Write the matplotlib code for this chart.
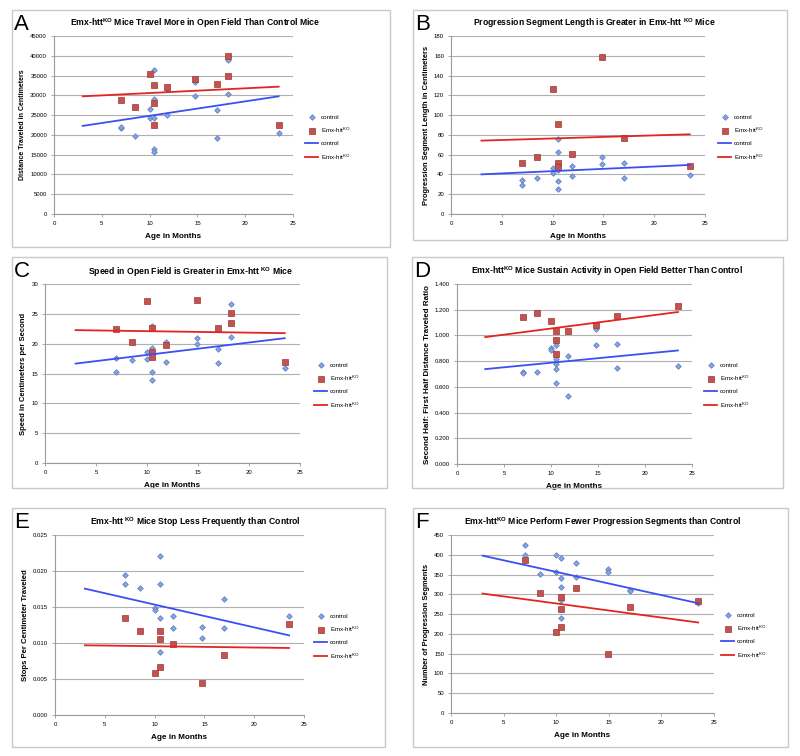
import numpy as np
import matplotlib
matplotlib.use('Agg')
import matplotlib.pyplot as plt
from matplotlib.patches import Rectangle

plt.rcParams['font.family'] = ['Liberation Sans', 'DejaVu Sans']
plt.rcParams['mathtext.fontset'] = 'custom'
plt.rcParams['mathtext.rm'] = 'Liberation Sans'
plt.rcParams['mathtext.bf'] = 'Liberation Sans:bold'

# --- data ---
trend_x = [3, 23.5]

# A: distance travelled
a_ctrl_age = [7, 7, 8.5, 10, 10, 10.5, 10.5, 10.5, 10.5, 10.5, 11.8, 11.8, 14.8, 14.8, 17, 17, 18.2, 18.2, 23.5]
a_ctrl = [21700, 21900, 19750, 26550, 24300, 36400, 29100, 24300, 16400, 15550, 31500, 24950, 33350, 29850, 26200, 19300, 39000, 30250, 20600]
a_ko_age = [7, 8.5, 10, 10.5, 10.5, 10.5, 11.8, 14.8, 17, 18.2, 18.2, 23.5]
a_ko = [28800, 27050, 35400, 32700, 28050, 22600, 32150, 34200, 32900, 40050, 34950, 22450]
a_trend_ctrl = [22270, 29750]
a_trend_ko = [29750, 32190]

# B: progression segment length
b_ctrl_age = [7, 7, 8.5, 10, 10, 10.5, 10.5, 10.5, 10.5, 10.5, 11.9, 11.9, 14.9, 14.9, 17, 17, 23.5]
b_ctrl = [34.1, 29.3, 36.4, 46.5, 41.5, 75.5, 62.7, 44.2, 33.1, 25.3, 48.2, 38.1, 57.3, 50.9, 51.3, 36.4, 39.5]
b_ko_age = [7, 8.5, 10, 10.5, 10.5, 10.5, 11.9, 14.9, 17, 23.5]
b_ko = [51.6, 57.7, 126.8, 90.7, 51.9, 47.2, 60.7, 158.5, 76.6, 48.9]
b_trend_ctrl = [40.1, 49.6]
b_trend_ko = [74.2, 80.6]

# C: speed
c_ctrl_age = [7, 7, 8.5, 10, 10, 10.5, 10.5, 10.5, 10.5, 10.5, 11.9, 11.9, 14.9, 14.9, 17, 17, 18.2, 18.2, 23.5]
c_ctrl = [17.55, 15.2, 17.2, 18.6, 17.4, 22.9, 19.3, 18.5, 15.3, 13.85, 20.2, 16.9, 21.0, 19.9, 19.1, 16.8, 26.7, 21.1, 16.0]
c_ko_age = [7, 8.5, 10, 10.5, 10.5, 10.5, 11.9, 14.9, 17, 18.2, 18.2, 23.5]
c_ko = [22.4, 20.2, 27.1, 22.6, 18.6, 17.7, 19.85, 27.3, 22.7, 25.2, 23.45, 16.9]
c_trend_ctrl = [16.66, 20.92]
c_trend_ko = [22.27, 21.76]

# D: second half / first half ratio
d_ctrl_age = [7, 7, 8.5, 10, 10, 10.5, 10.5, 10.5, 10.5, 10.5, 11.8, 11.8, 14.8, 14.8, 17, 17, 23.5]
d_ctrl = [0.719, 0.709, 0.714, 0.899, 0.886, 0.925, 0.818, 0.777, 0.740, 0.629, 0.842, 0.532, 1.047, 0.927, 0.930, 0.743, 0.764]
d_ko_age = [7, 8.5, 10, 10.5, 10.5, 10.5, 11.8, 14.8, 17, 23.5]
d_ko = [1.143, 1.171, 1.109, 1.031, 0.961, 0.855, 1.034, 1.078, 1.153, 1.226]
d_trend_ctrl = [0.738, 0.883]
d_trend_ko = [0.987, 1.182]

# E: stops per cm
e_ctrl_age = [7, 7, 8.5, 10, 10, 10.5, 10.5, 10.5, 10.5, 11.8, 11.8, 14.8, 14.8, 17, 17, 23.5]
e_ctrl = [0.0195, 0.0182, 0.0176, 0.0149, 0.0146, 0.0221, 0.0182, 0.0135, 0.0087, 0.0138, 0.0121, 0.0122, 0.0107, 0.0161, 0.0121, 0.0137]
e_ko_age = [7, 8.5, 10, 10.5, 10.5, 10.5, 11.8, 14.8, 17, 23.5]
e_ko = [0.0135, 0.0116, 0.0058, 0.0117, 0.0106, 0.0066, 0.0098, 0.0044, 0.0083, 0.0127]
e_trend_ctrl = [0.01755, 0.01106]
e_trend_ko = [0.00968, 0.00931]

# F: number of progression segments
f_ctrl_age = [7, 7, 8.5, 10, 10, 10.5, 10.5, 10.5, 10.5, 10.5, 11.9, 11.9, 14.9, 14.9, 17, 17, 23.5]
f_ctrl = [425, 400, 351, 399, 357, 393, 342, 318, 285, 240, 379, 343, 364, 357, 311, 309, 277]
f_ko_age = [7, 8.5, 10, 10.5, 10.5, 10.5, 11.9, 14.9, 17, 23.5]
f_ko = [388, 303, 204, 293, 262, 217, 316, 150, 268, 282]
f_trend_ctrl = [397.8, 277.5]
f_trend_ko = [301.9, 228.8]

letters = ['A', 'B', 'C', 'D', 'E', 'F']
titles = [
    r'Emx-htt$^{\mathbf{KO}}$ Mice Travel More in Open Field Than Control Mice',
    r'Progression Segment Length is Greater in Emx-htt $^{\mathbf{KO}}$ Mice',
    r'Speed in Open Field is Greater in Emx-htt $^{\mathbf{KO}}$ Mice',
    r'Emx-htt$^{\mathbf{KO}}$ Mice Sustain Activity in Open Field Better Than Control',
    r'Emx-htt $^{\mathbf{KO}}$ Mice Stop Less Frequently than Control',
    r'Emx-htt$^{\mathbf{KO}}$ Mice Perform Fewer Progression Segments than Control',
]
ylabels = [
    'Distance Traveled in Centimeters',
    'Progression Segment Length in Centimeters',
    'Speed in Centimeters per Second',
    'Second Half: First Half Distance Traveled Ratio',
    'Stops Per Centimeter Traveled',
    'Number of Progression Segments',
]
ymax = [45000, 180, 30, 1.4, 0.025, 450]
ystep = [5000, 20, 5, 0.2, 0.005, 50]
yfmt = ['{:.0f}', '{:.0f}', '{:.0f}', '{:.3f}', '{:.3f}', '{:.0f}']
panels = [
    (a_ctrl_age, a_ctrl, a_ko_age, a_ko, a_trend_ctrl, a_trend_ko),
    (b_ctrl_age, b_ctrl, b_ko_age, b_ko, b_trend_ctrl, b_trend_ko),
    (c_ctrl_age, c_ctrl, c_ko_age, c_ko, c_trend_ctrl, c_trend_ko),
    (d_ctrl_age, d_ctrl, d_ko_age, d_ko, d_trend_ctrl, d_trend_ko),
    (e_ctrl_age, e_ctrl, e_ko_age, e_ko, e_trend_ctrl, e_trend_ko),
    (f_ctrl_age, f_ctrl, f_ko_age, f_ko, f_trend_ctrl, f_trend_ko),
]

# --- layout in pixels (figure is 800 x 756) ---
W, H = 800, 756
axes_px = [(54, 36, 293, 214), (451, 36, 705, 214), (45, 284, 300, 463),
           (457, 284, 692, 464), (55, 535, 304, 715), (451, 535, 714, 713)]
box_px = [(12, 10, 390, 247), (413, 10, 787, 240), (12, 257, 387, 488),
          (412, 257, 783, 488), (12, 508, 385, 747), (413, 508, 788, 747)]
title_px = [(195, 23), (594, 23), (191, 272), (607, 271), (195, 522), (603, 522)]
legend_px = [(305, 138), (718, 138), (314, 386), (704, 386), (314, 637), (721, 636)]
ylabel_size = [5.0, 5.4, 5.5, 5.8, 5.6, 5.45]

ctrl_face, ctrl_edge = '#88a3dc', '#5c7cc6'
ko_face, ko_edge = '#c4524f', '#9b3734'
line_blue, line_red = '#3c4ff0', '#e2251f'
grid_col = '#b0b0b0'

fig = plt.figure(figsize=(8, 7.56), dpi=100)

for i in range(6):
    bx0, by0, bx1, by1 = box_px[i]
    fig.patches.append(Rectangle((bx0 / W, 1 - by1 / H), (bx1 - bx0) / W, (by1 - by0) / H,
                                 transform=fig.transFigure, fill=False,
                                 edgecolor='#c9c9c9', linewidth=1.0))
    fig.text((bx0 + 2) / W, 1 - (by0 + 4) / H, letters[i], fontsize=16,
             ha='left', va='top', color='black')

    x0, y0, x1, y1 = axes_px[i]
    ax = fig.add_axes([x0 / W, 1 - y1 / H, (x1 - x0) / W, (y1 - y0) / H])
    ctrl_age, ctrl, ko_age, ko, tr_ctrl, tr_ko = panels[i]

    h1, = ax.plot(ctrl_age, ctrl, linestyle='none', marker='D', markersize=2.9,
                  markerfacecolor=ctrl_face, markeredgecolor=ctrl_edge, markeredgewidth=0.5,
                  label='control', zorder=3)
    h2, = ax.plot(ko_age, ko, linestyle='none', marker='s', markersize=4.0,
                  markerfacecolor=ko_face, markeredgecolor=ko_edge, markeredgewidth=0.5,
                  label=r'Emx-htt$^{\mathrm{KO}}$', zorder=3)
    h3, = ax.plot(trend_x, tr_ctrl, color=line_blue, linewidth=1.3, label='control', zorder=4)
    h4, = ax.plot(trend_x, tr_ko, color=line_red, linewidth=1.3, label=r'Emx-htt$^{\mathrm{KO}}$', zorder=4)

    ax.set_xlim(0, 25)
    ax.set_ylim(0, ymax[i])
    ax.set_xticks(np.arange(0, 26, 5))
    yt = np.arange(0, ymax[i] + ystep[i] / 2, ystep[i])
    ax.set_yticks(yt)
    ax.set_yticklabels([yfmt[i].format(v) for v in yt])
    ax.grid(axis='y', color=grid_col, linewidth=0.8)
    ax.set_axisbelow(True)
    for s in ['top', 'right']:
        ax.spines[s].set_visible(False)
    for s in ['left', 'bottom']:
        ax.spines[s].set_color('#9a9a9a')
        ax.spines[s].set_linewidth(0.8)
    ax.tick_params(axis='both', labelsize=4.3, length=2.5, width=0.6, color='#9a9a9a', pad=2.5)

    ax.set_xlabel('Age in Months', fontsize=5.9, fontweight='bold', labelpad=5)
    ax.set_ylabel(ylabels[i], fontsize=ylabel_size[i], fontweight='bold', labelpad=3)

    tx, ty = title_px[i]
    fig.text(tx / W, 1 - ty / H, titles[i], fontsize=6.2, fontweight='bold',
             ha='center', va='center')

    lx, ly = legend_px[i]
    ax.legend(handles=[h1, h2, h3, h4], loc='center left',
              bbox_to_anchor=(lx / W, 1 - ly / H), bbox_transform=fig.transFigure,
              frameon=False, fontsize=4.5, handlelength=2.1, handletextpad=0.4,
              labelspacing=0.95, borderpad=0, borderaxespad=0)

fig.savefig('out.png', dpi=100, facecolor='white')
